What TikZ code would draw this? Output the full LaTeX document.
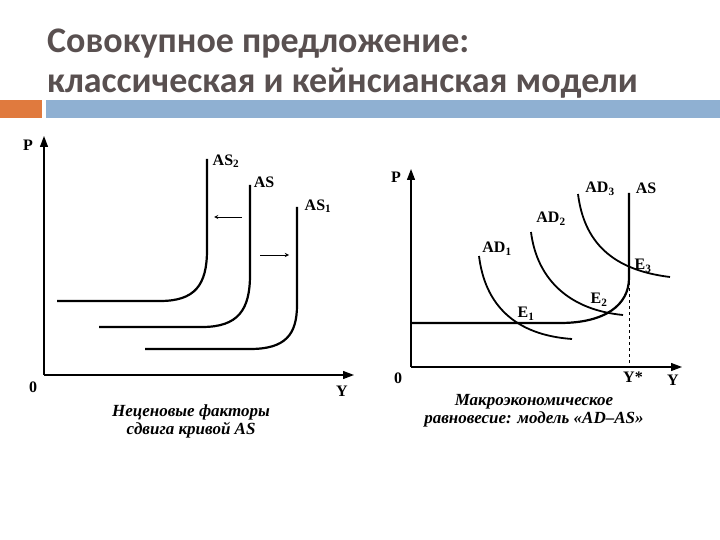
\documentclass[tikz,border=0pt]{standalone}
\usepackage{fontspec}
\setmainfont{Liberation Serif}
\newfontfamily\titlefont{Carlito}
\usepackage{tikz}
\usetikzlibrary{arrows,arrows.meta,positioning}
\definecolor{titlegray}{RGB}{89,80,80}
\definecolor{barorange}{RGB}{224,122,62}
\definecolor{barblue}{RGB}{143,176,210}

\begin{document}
\begin{tikzpicture}[x=1pt,y=-1pt,
                    axis/.style={line width=1.3pt,-{Triangle[length=11pt,width=8pt]}},
                    curve/.style={line width=2.2pt},
                    shiftarrow/.style={line width=0.9pt,-stealth},
                    lbl/.style={font=\bfseries\fontsize{16}{16}\selectfont,inner sep=1pt},
                    caption/.style={font=\bfseries\itshape\fontsize{17}{18}\selectfont,align=center}]
      \useasboundingbox (0,0) rectangle (720,540);
      % title and bars
      \node[anchor=base west,text=titlegray,inner sep=0pt,
            font=\titlefont\bfseries\fontsize{36}{36}\selectfont] (t1) at (47,53) {Совокупное предложение:};
      \node[anchor=base west,text=titlegray,inner sep=0pt,
            font=\titlefont\bfseries\fontsize{36}{36}\selectfont] (t2) at (47,93) {классическая и кейнсианская модели};
      \fill[barorange] (0,100) rectangle (42,118);
      \fill[barblue] (46,100) rectangle (720,118);

      % left graph
      \coordinate (O1) at (44,375);
      \coordinate (P1) at (44,136);
      \coordinate (Y1) at (354,375);
      \draw[axis] (O1) -- (P1);
      \draw[axis] (O1) -- (Y1);
      \node[lbl] (p1) at (28,145) {P};
      \node[lbl] (o1) at (33,387) {0};
      \node[lbl] (y1) at (342,391) {Y};
      \draw[curve] (57,301) -- (160,301) .. controls (195,301) and (207,285) .. (207,250) -- (207,159);
      \draw[curve] (99,327) -- (202,327) .. controls (238,327) and (250,310) .. (250,275) -- (250,185);
      \draw[curve] (145,349) -- (250,349) .. controls (285,349) and (297,335) .. (297,305) -- (297,207);
      \node[lbl] (as2) at (226,161) {AS\textsubscript{2}};
      \node[lbl] (as)  at (264,182) {AS};
      \node[lbl] (as1) at (318,206) {AS\textsubscript{1}};
      \coordinate (la) at (242,217);
      \coordinate (lb) at (214,217);
      \coordinate (ra) at (260,255);
      \coordinate (rb) at (289,255);
      \draw[shiftarrow] (la) -- (lb);
      \draw[shiftarrow] (ra) -- (rb);
      \node[caption] (cap1) at (191,421) {Неценовые факторы\\сдвига кривой AS};

      % right graph
      \coordinate (O2) at (411,367);
      \coordinate (P2) at (411,169);
      \coordinate (Y2) at (682,367);
      \draw[axis] (O2) -- (P2);
      \draw[axis] (O2) -- (Y2);
      \node[lbl] (p2) at (396,177) {P};
      \node[lbl] (o2) at (398,378) {0};
      \node[lbl] (y2) at (673,380) {Y};
      \node[lbl] (ys) at (633,377) {Y*};
      \draw[curve] (411,323) -- (560,323) .. controls (605,323) and (629,305) .. (629,278) -- (629,193);
      \draw[line width=1pt,dashed] (629,282) -- (629,367);
      \draw[line width=1.8pt] (479,256) .. controls (485,305) and (515,335) .. (572,339);
      \draw[line width=1.8pt] (531,232) .. controls (537,280) and (570,310) .. (623,315);
      \draw[line width=1.8pt] (578,194) .. controls (584,242) and (612,270) .. (670,277);
      \node[lbl] (ad1) at (497,249) {AD\textsubscript{1}};
      \node[lbl] (ad2) at (551,219) {AD\textsubscript{2}};
      \node[lbl] (ad3) at (600,189) {AD\textsubscript{3}};
      \node[lbl] (asr) at (646,188) {AS};
      \node[lbl] (e1) at (526,314) {E\textsubscript{1}};
      \node[lbl] (e2) at (599,300) {E\textsubscript{2}};
      \node[lbl] (e3) at (643,266) {E\textsubscript{3}};
      \node[caption] (cap2) at (534,411) {Макроэкономическое\\равновесие: модель «AD–AS»};
\end{tikzpicture}
\end{document}
